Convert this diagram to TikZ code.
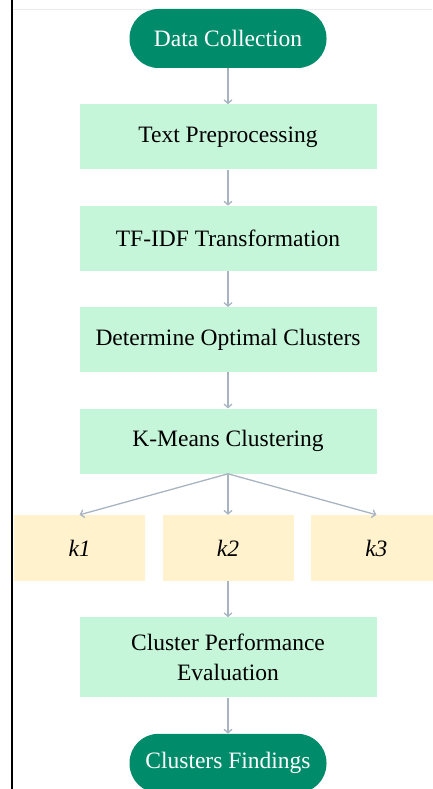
\documentclass[tikz,border=0pt]{standalone}
\usepackage{fontspec}
\setmainfont{Liberation Serif}
\usetikzlibrary{positioning,arrows.meta}
\definecolor{darkgreen}{HTML}{008C6A}
\definecolor{lightgreen}{HTML}{C6F6DA}
\definecolor{lightsand}{HTML}{FFF2CC}
\definecolor{arrowgray}{HTML}{A9B4C2}
\tikzset{
  terminal/.style={fill=darkgreen, text=white, rounded corners=29pt,
    minimum width=197pt, minimum height=59pt, inner sep=0pt,
    font=\fontsize{23.5}{28}\selectfont},
  stepbox/.style={fill=lightgreen, minimum width=297pt, minimum height=65pt,
    inner sep=0pt, align=center, font=\fontsize{23.5}{30}\selectfont},
  kbox/.style={fill=lightsand, minimum width=131pt, minimum height=66pt,
    inner sep=0pt, font=\fontsize{23.5}{28}\selectfont\itshape},
  flow/.style={draw=arrowgray, line width=1.3pt,
    -{Straight Barb[length=3.5pt,width=8pt]}}
}
\begin{document}
\begin{tikzpicture}[x=1pt,y=1pt]
\useasboundingbox (0,0) rectangle (432,-789);
% Rahmen
\draw[black!8, line width=0.8pt] (12,-9) -- (432,-9);
% Ablauf
\node[terminal] (dc) at (228,-38.5) {Data Collection};
\node[stepbox, below=36pt of dc] (tp) {Text Preprocessing};
\node[stepbox, below=36pt of tp] (tfidf) {TF-IDF Transformation};
\node[stepbox, below=36pt of tfidf] (opt) {Determine Optimal Clusters};
\node[stepbox, below=36pt of opt] (km) {K-Means Clustering};
% Cluster
\node[kbox, below=41pt of km] (k2) {k2};
\node[kbox, left=17pt of k2] (k1) {k1};
\node[kbox, right=17pt of k2] (k3) {k3};
\node[stepbox, minimum height=80pt, below=36pt of k2] (cpe) {Cluster Performance\\Evaluation};
\node[terminal, below=36pt of cpe] (cf) {Clusters Findings};
% Pfeile
\draw[flow] (dc) -- (tp);
\draw[flow] (tp) -- (tfidf);
\draw[flow] (tfidf) -- (opt);
\draw[flow] (opt) -- (km);
\draw[flow] (km.south) -- (k1.north);
\draw[flow] (km.south) -- (k2.north);
\draw[flow] (km.south) -- (k3.north);
\draw[flow] (k2) -- (cpe);
\draw[flow] (cpe) -- (cf);
% links
\draw[black, line width=1.6pt] (12,0) -- (12,-789);
\end{tikzpicture}
\end{document}
